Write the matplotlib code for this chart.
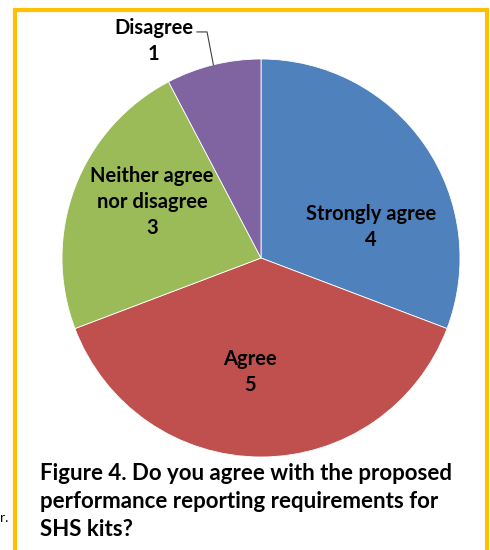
import matplotlib.pyplot as plt
from matplotlib.patches import Rectangle
import numpy as np

# survey answers, clockwise from 12 o'clock
labels = ["Strongly agree", "Agree", "Neither agree\nnor disagree", "Disagree"]
counts = [4, 5, 3, 1]
colors = ["#4F81BD", "#C0504D", "#9BBB59", "#8064A2"]
title = "Figure 4. Do you agree with the proposed\nperformance reporting requirements for\nSHS kits?"

plt.rcParams['font.family'] = ['Lato', 'DejaVu Sans']

fig = plt.figure(figsize=(4.9, 5.5), dpi=100)
ax = fig.add_axes([62/490, 93/550, 398/490, 398/550])

wedges, _ = ax.pie(counts, colors=colors, startangle=90, counterclock=False,
                   radius=1, wedgeprops=dict(edgecolor="white", linewidth=0.6))
ax.set_xlim(-1, 1)
ax.set_ylim(-1, 1)
ax.set_aspect("equal")
ax.axis("off")

# label positions (fraction of radius) -- picked by eye
label_pos = [(0.553, 0.155), (-0.055, -0.575), (-0.548, 0.28), (-0.54, 1.09)]
for lab, n, (x, y) in zip(labels, counts, label_pos):
    ax.text(x, y, f"{lab}\n{n}", ha="center", va="center", fontsize=14.5,
            fontweight="bold", linespacing=1.38, clip_on=False)

# leader line for the small slice
w = wedges[-1]
mid = np.deg2rad((w.theta1 + w.theta2) / 2)
ex, ey = np.cos(mid), np.sin(mid)
ax.plot([-0.322, -0.271, ex], [1.136, 1.136, ey], color="#404040", lw=0.8,
        clip_on=False)

fig.text(40/490, 1 - 463/550, title, ha="left", va="top", fontsize=16,
         fontweight="bold", linespacing=1.42)

# yellow frame of the figure box
fig.patches.append(Rectangle((15/490, -0.05), 472/490, 1.05 - 9.5/550,
                             transform=fig.transFigure, fill=False,
                             edgecolor="#FFC000", linewidth=3))
fig.text(0, 1 - 518/550, "r.", fontsize=10, va="center")

fig.savefig("out.png", dpi=100)
